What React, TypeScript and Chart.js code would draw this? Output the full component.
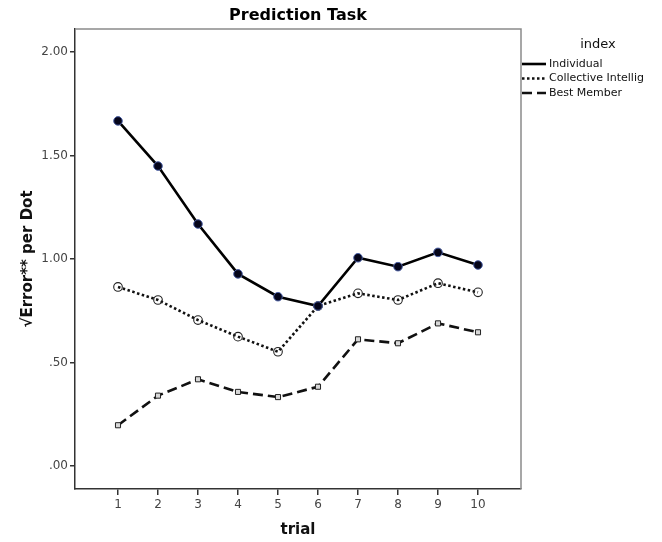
import React, { useEffect, useRef } from 'react';
import { Chart, registerables } from 'chart.js';

Chart.register(...registerables);

// ---- data ----
const trials = [1, 2, 3, 4, 5, 6, 7, 8, 9, 10];
const individual = [1.667, 1.449, 1.169, 0.928, 0.818, 0.773, 1.006, 0.963, 1.032, 0.971];
const collective = [0.865, 0.802, 0.705, 0.625, 0.552, 0.773, 0.834, 0.802, 0.883, 0.839];
const bestMember = [0.197, 0.340, 0.419, 0.358, 0.333, 0.383, 0.612, 0.593, 0.689, 0.646];
const yTicks = [0, 0.5, 1, 1.5, 2];
const seriesNames = ['Individual', 'Collective Intellig', 'Best Member'];
const legendTitle = 'index';
const chartTitle = 'Prediction Task';
const xTitle = 'trial';
const yTitle = '\u221AError** per Dot';

const FONT = '"DejaVu Sans", "Liberation Sans", sans-serif';

const frameAndLegend = {
  id: 'frameAndLegend',
  afterDraw(chart: any) {
    const { ctx, chartArea } = chart;
    const { left, right, top, bottom } = chartArea;
    ctx.save();
    // top and right frame lines
    ctx.strokeStyle = '#8a8a8a';
    ctx.lineWidth = 1.5;
    ctx.beginPath();
    ctx.moveTo(left, top);
    ctx.lineTo(right, top);
    ctx.lineTo(right, bottom);
    ctx.stroke();

    // legend
    ctx.fillStyle = '#111';
    ctx.font = `13px ${FONT}`;
    ctx.textAlign = 'center';
    ctx.textBaseline = 'middle';
    ctx.fillText(legendTitle, right + 77, top + 16);
    ctx.font = `11px ${FONT}`;
    ctx.textAlign = 'left';
    chart.data.datasets.forEach((ds: any, i: number) => {
      const y = top + 35 + i * 14.5;
      ctx.save();
      ctx.strokeStyle = ds.borderColor;
      ctx.lineWidth = ds.borderWidth;
      ctx.setLineDash(ds.borderDash || []);
      ctx.lineCap = ds.borderCapStyle || 'butt';
      ctx.beginPath();
      ctx.moveTo(right + 1, y);
      ctx.lineTo(right + 25, y);
      ctx.stroke();
      ctx.restore();
      ctx.fillText(ds.label, right + 28, y);
    });
    ctx.restore();
  },
};

export default function App() {
  const ref = useRef<HTMLCanvasElement | null>(null);

  useEffect(() => {
    if (!ref.current) return;
    const toPts = (arr: number[]) => trials.map((t, i) => ({ x: t, y: arr[i] }));
    const chart = new Chart(ref.current, {
      type: 'line',
      data: {
        datasets: [
          {
            label: seriesNames[0],
            data: toPts(individual),
            borderColor: '#000',
            borderWidth: 2.6,
            pointStyle: 'circle',
            pointRadius: 4.3,
            pointBackgroundColor: '#05051a',
            pointBorderColor: '#4a5fa5',
            pointBorderWidth: 1,
            tension: 0,
          },
          {
            label: seriesNames[1],
            data: toPts(collective),
            borderColor: '#111',
            borderWidth: 2.6,
            borderDash: [2.5, 2.5],
            pointStyle: 'circle',
            pointRadius: 4.3,
            pointBackgroundColor: 'rgba(255,255,255,0)',
            pointBorderColor: '#222',
            pointBorderWidth: 1.1,
            tension: 0,
          },
          {
            label: seriesNames[2],
            data: toPts(bestMember),
            borderColor: '#111',
            borderWidth: 2.6,
            borderDash: [10, 5],
            pointStyle: 'rect',
            pointRadius: 3.6,
            pointBackgroundColor: '#d8d8d8',
            pointBorderColor: '#222',
            pointBorderWidth: 1,
            tension: 0,
          },
        ],
      } as any,
      options: {
        responsive: false,
        animation: false,
        devicePixelRatio: 1,
        events: [],
        layout: { padding: { left: 0, right: 141, top: 0, bottom: 0 } },
        plugins: {
          legend: { display: false },
          tooltip: { enabled: false },
          title: {
            display: true,
            text: chartTitle,
            fullSize: false,
            color: '#000',
            font: { family: FONT, size: 16, weight: 'bold' },
            padding: { top: 6.4, bottom: 3.4 },
          },
        },
        scales: {
          x: {
            type: 'linear',
            min: -0.075,
            max: 11.075,
            afterBuildTicks: (s: any) => {
              s.ticks = trials.map((v) => ({ value: v }));
            },
            afterFit: (s: any) => {
              s.height = 53;
            },
            grid: { drawOnChartArea: false, tickLength: 6, color: '#333', lineWidth: 1.5 },
            border: { color: '#333', width: 1.5 },
            ticks: {
              padding: 3,
              autoSkip: false,
              maxRotation: 0,
              color: '#444',
              font: { family: FONT, size: 12 },
            },
            title: {
              display: true,
              text: xTitle,
              color: '#111',
              font: { family: FONT, size: 15, weight: 'bold' },
              padding: { top: 0, bottom: 3 },
            },
          },
          y: {
            type: 'linear',
            min: -0.111,
            max: 2.111,
            afterBuildTicks: (s: any) => {
              s.ticks = yTicks.map((v) => ({ value: v }));
            },
            afterFit: (s: any) => {
              s.width = 75;
            },
            grid: { drawOnChartArea: false, tickLength: 5, color: '#333', lineWidth: 1.5 },
            border: { color: '#333', width: 1.5 },
            ticks: {
              padding: 2,
              color: '#444',
              font: { family: FONT, size: 12 },
              callback: (v: any) => Number(v).toFixed(2).replace(/^0/, ''),
            },
            title: {
              display: true,
              text: yTitle,
              color: '#111',
              font: { family: FONT, size: 15, weight: 'bold' },
              padding: { top: 19, bottom: 0 },
            },
          },
        },
      } as any,
      plugins: [frameAndLegend],
    });
    return () => chart.destroy();
  }, []);

  return (
    <div style={{ position: 'absolute', left: 0, top: 0, width: 662, height: 542, background: '#fff' }}>
      <canvas ref={ref} width={662} height={542} style={{ display: 'block' }} />
    </div>
  );
}
